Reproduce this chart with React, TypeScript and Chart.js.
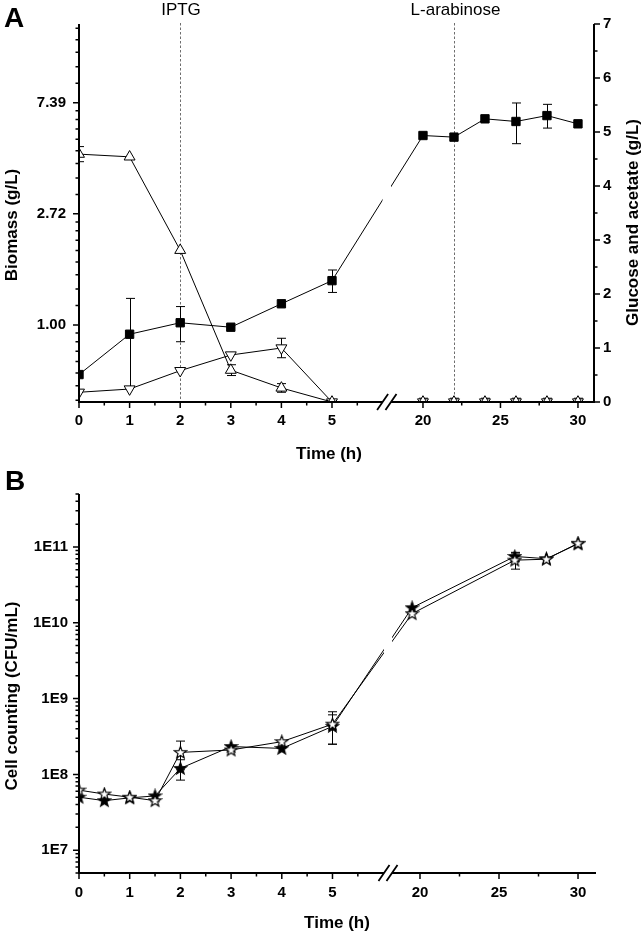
import React, { useEffect, useRef } from 'react';
import { Chart, registerables } from 'chart.js';

Chart.register(...registerables);

const FONT = '"Liberation Sans", Arial, Helvetica, sans-serif';

// ---------------- Panel A data ----------------
const timeA = [0, 1, 2, 3, 4, 5, 20, 22, 24, 26, 28, 30];
const biomass = [0.64, 0.92, 1.02, 0.98, 1.21, 1.49, 5.5, 5.42, 6.39, 6.24, 6.58, 6.11];
const biomassErr = [0, 0.35, 0.16, 0, 0, 0.15, 0, 0, 0, 1.13, 0.7, 0];
const glucose = [4.59, 4.54, 2.81, 0.59, 0.26, 0, 0, 0, 0, 0, 0, 0];
const glucoseErr = [0.14, 0, 0, 0.1, 0.08, 0, 0.07, 0.07, 0.07, 0.07, 0.07, 0.07];
const acetate = [0.18, 0.24, 0.58, 0.87, 1.0, 0, 0, 0, 0, 0, 0, 0];
const acetateErr = [0, 0, 0, 0, 0.18, 0, 0, 0, 0, 0, 0, 0];

const biomassTickValues = [Math.exp(0), Math.exp(1), Math.exp(2)];
const biomassTickLabels = ['1.00', '2.72', '7.39'];
const glucoseTickValues = [0, 1, 2, 3, 4, 5, 6, 7];

const eventTimes = [2, 22];
const eventLabels = ['IPTG', 'L-arabinose'];

// ---------------- Panel B data ----------------
const timeB = [0, 0.5, 1, 1.5, 2, 3, 4, 5, 19.5, 26, 28, 30];
const cellsOpen = [6.2e7, 5.5e7, 5.0e7, 4.5e7, 1.95e8, 2.1e8, 2.7e8, 4.6e8, 1.32e10, 6.7e10, 6.9e10, 1.12e11];
const cellsOpenErr = [0, 0, 0, 0, 0.8e8, 0, 0, 2.1e8, 0, 1.6e10, 0, 0];
const cellsFilled = [5.0e7, 4.5e7, 4.9e7, 5.2e7, 1.2e8, 2.33e8, 2.2e8, 4.3e8, 1.58e10, 7.5e10, 7.0e10, 1.1e11];
const cellsFilledErr = [0, 0, 0, 0, 0.36e8, 0, 0, 1.8e8, 0, 1.0e10, 0, 0];

const cellTickValues = [1e7, 1e8, 1e9, 1e10, 1e11];
const cellTickLabels = ['1E7', '1E8', '1E9', '1E10', '1E11'];

// ---------------- x-axis ticks (hours) ----------------
const xMajor = [0, 1, 2, 3, 4, 5, 20, 25, 30];
const xMinor = [0.5, 1.5, 2.5, 3.5, 4.5, 5.5, 22.5, 27.5];

// broken-axis definitions (first segment in hours, second segment compressed)
const brkA = { cut: 6.1, at20: 6.798, k: 0.3063, gapL: 6.0, gapR: 6.166, max: 10.178 };
const brkB = { cut: 6.1, at20: 6.726, k: 0.3117, gapL: 6.016, gapR: 6.174, max: 10.178 };

function toU(b: any, t: number) {
  return t <= b.cut ? t : b.at20 + (t - 20) * b.k;
}
function pts(b: any, times: number[], vals: number[]) {
  return times.map((t, i) => ({ x: toU(b, t), y: vals[i] }));
}

function lnMinor(min: number, max: number) {
  const out: number[] = [];
  for (let n = -2; n <= 3; n++) {
    const a = Math.exp(n), c = Math.exp(n + 1);
    for (let k = 1; k <= 8; k++) {
      const v = a + (k * (c - a)) / 9;
      if (v >= min && v <= max) out.push(v);
    }
  }
  return out;
}
function logMinor(min: number, max: number) {
  const out: number[] = [];
  for (let n = 5; n <= 12; n++) {
    for (let k = 2; k <= 9; k++) {
      const v = k * Math.pow(10, n);
      if (v >= min && v <= max) out.push(v);
    }
  }
  return out;
}

function makeStar(fill: string) {
  const c = document.createElement('canvas');
  c.width = 15;
  c.height = 15;
  const g = c.getContext('2d')!;
  const cx = 7.5, cy = 7.8, R = 6.3, r = 2.6;
  g.beginPath();
  for (let i = 0; i < 10; i++) {
    const ang = -Math.PI / 2 + (i * Math.PI) / 5;
    const rr = i % 2 === 0 ? R : r;
    const x = cx + rr * Math.cos(ang), y = cy + rr * Math.sin(ang);
    if (i === 0) g.moveTo(x, y);
    else g.lineTo(x, y);
  }
  g.closePath();
  g.fillStyle = fill;
  g.fill();
  g.strokeStyle = '#000';
  g.lineWidth = 1.2;
  g.stroke();
  return c;
}

const tickFont = { family: FONT, size: 15, weight: 'bold' as const };

function decoPlugin(p: any) {
  return {
    id: 'deco' + p.name,
    beforeDatasetsDraw(chart: any) {
      const { ctx, chartArea: ca } = chart;
      const xs = chart.scales.x;
      ctx.save();
      // event lines
      ctx.strokeStyle = '#6e6e6e';
      ctx.lineWidth = 1;
      ctx.setLineDash([2.5, 2]);
      (p.events || []).forEach((t: number) => {
        const x = Math.round(xs.getPixelForValue(toU(p.brk, t))) + 0.5;
        ctx.beginPath();
        ctx.moveTo(x, ca.top - 1);
        ctx.lineTo(x, ca.bottom);
        ctx.stroke();
      });
      ctx.setLineDash([]);
      // error bars
      ctx.beginPath();
      ctx.rect(ca.left, ca.top, ca.right - ca.left, ca.bottom - ca.top);
      ctx.clip();
      ctx.strokeStyle = '#000';
      ctx.lineWidth = 1;
      chart.data.datasets.forEach((ds: any, i: number) => {
        const errs = ds.errs;
        if (!errs) return;
        const meta = chart.getDatasetMeta(i);
        const ys = chart.scales[ds.yAxisID];
        ds.data.forEach((pt: any, j: number) => {
          const e = errs[j];
          if (!e) return;
          const x = Math.round(meta.data[j].x) + 0.5;
          const yTop = ys.getPixelForValue(pt.y + e);
          const lo = pt.y - e;
          const yBot = lo > ys.min ? ys.getPixelForValue(lo) : ca.bottom + 10;
          ctx.beginPath();
          ctx.moveTo(x, yTop);
          ctx.lineTo(x, yBot);
          ctx.moveTo(x - 4.5, yTop);
          ctx.lineTo(x + 4.5, yTop);
          ctx.moveTo(x - 4.5, yBot);
          ctx.lineTo(x + 4.5, yBot);
          ctx.stroke();
        });
      });
      ctx.restore();
    },
    afterDatasetsDraw(chart: any) {
      const { ctx, chartArea: ca } = chart;
      const xs = chart.scales.x;
      const x1 = xs.getPixelForValue(p.brk.gapL);
      const x2 = xs.getPixelForValue(p.brk.gapR);
      ctx.save();
      // break band
      ctx.fillStyle = '#fff';
      ctx.fillRect(x1, ca.top, x2 - x1, ca.bottom - ca.top + 3);
      // axis lines
      ctx.strokeStyle = '#000';
      ctx.lineWidth = 2;
      ctx.beginPath();
      ctx.moveTo(ca.left, ca.top);
      ctx.lineTo(ca.left, ca.bottom + 1);
      if (p.rightId) {
        ctx.moveTo(ca.right, ca.top);
        ctx.lineTo(ca.right, ca.bottom + 1);
      }
      ctx.moveTo(ca.left - 1, ca.bottom);
      ctx.lineTo(x1, ca.bottom);
      ctx.moveTo(x2, ca.bottom);
      ctx.lineTo(ca.right + 1, ca.bottom);
      ctx.stroke();
      // ticks
      ctx.lineWidth = 1.5;
      ctx.beginPath();
      xMajor.forEach((t) => {
        const x = xs.getPixelForValue(toU(p.brk, t));
        ctx.moveTo(x, ca.bottom);
        ctx.lineTo(x, ca.bottom + 6);
      });
      xMinor.forEach((t) => {
        const x = xs.getPixelForValue(toU(p.brk, t));
        ctx.moveTo(x, ca.bottom);
        ctx.lineTo(x, ca.bottom + 3.5);
      });
      const ly = chart.scales[p.leftId];
      p.leftMajor.forEach((v: number) => {
        const y = ly.getPixelForValue(v);
        ctx.moveTo(ca.left - 6, y);
        ctx.lineTo(ca.left, y);
      });
      p.leftMinor.forEach((v: number) => {
        const y = ly.getPixelForValue(v);
        ctx.moveTo(ca.left - 3.5, y);
        ctx.lineTo(ca.left, y);
      });
      if (p.rightId) {
        const ry = chart.scales[p.rightId];
        p.rightMajor.forEach((v: number) => {
          const y = ry.getPixelForValue(v);
          ctx.moveTo(ca.right, y);
          ctx.lineTo(ca.right + 6, y);
        });
        p.rightMinor.forEach((v: number) => {
          const y = ry.getPixelForValue(v);
          ctx.moveTo(ca.right, y);
          ctx.lineTo(ca.right + 3.5, y);
        });
      }
      ctx.stroke();
      // break slashes
      ctx.lineWidth = 1.8;
      ctx.beginPath();
      [x1, x2].forEach((c) => {
        ctx.moveTo(c - 5.5, ca.bottom + 8);
        ctx.lineTo(c + 5.5, ca.bottom - 8);
      });
      ctx.stroke();
      ctx.restore();
    },
    afterDraw(chart: any) {
      const { ctx } = chart;
      ctx.save();
      ctx.fillStyle = '#000';
      p.texts.forEach((tx: any) => {
        ctx.save();
        ctx.font = tx.font;
        ctx.textAlign = 'center';
        ctx.textBaseline = 'alphabetic';
        ctx.translate(tx.x, tx.y);
        if (tx.rot) ctx.rotate(-Math.PI / 2);
        ctx.fillText(tx.text, 0, 0);
        ctx.restore();
      });
      ctx.restore();
    },
  };
}

function xScale(b: any, h: number, pad: number) {
  return {
    type: 'linear',
    min: 0,
    max: b.max,
    grid: { display: false, drawTicks: false },
    border: { display: false },
    ticks: {
      font: tickFont,
      color: '#000',
      padding: pad,
      autoSkip: false,
      maxRotation: 0,
      callback: (_v: any, i: number) => String(xMajor[i]),
    },
    afterBuildTicks: (s: any) => {
      s.ticks = xMajor.map((t) => ({ value: toU(b, t) }));
    },
    afterFit: (s: any) => {
      s.height = h;
    },
  };
}

function configA(): any {
  const base = { borderColor: '#000', borderWidth: 1, tension: 0, clip: 0, pointBorderColor: '#000', pointBorderWidth: 1 };
  return {
    type: 'line',
    data: {
      datasets: [
        { ...base, label: 'Biomass', data: pts(brkA, timeA, biomass), errs: biomassErr, yAxisID: 'y', pointStyle: 'rect', pointRadius: 5.9, pointBackgroundColor: '#000' },
        { ...base, label: 'Glucose', data: pts(brkA, timeA, glucose), errs: glucoseErr, yAxisID: 'y2', pointStyle: 'triangle', pointRadius: 6.3, pointBackgroundColor: '#fff' },
        { ...base, label: 'Acetate', data: pts(brkA, timeA, acetate), errs: acetateErr, yAxisID: 'y2', pointStyle: 'triangle', pointRotation: 180, pointRadius: 6.3, pointBackgroundColor: '#fff' },
      ],
    },
    options: {
      responsive: false,
      animation: false,
      events: [],
      layout: { padding: { top: 24, left: 0, right: 0, bottom: 0 } },
      plugins: { legend: { display: false }, tooltip: { enabled: false } },
      scales: {
        x: xScale(brkA, 63, 10),
        y: {
          type: 'logarithmic',
          position: 'left',
          min: 0.5,
          max: 15,
          grid: { display: false, drawTicks: false },
          border: { display: false },
          ticks: { font: tickFont, color: '#000', padding: 13, autoSkip: false, callback: (_v: any, i: number) => biomassTickLabels[i] },
          afterBuildTicks: (s: any) => {
            s.ticks = biomassTickValues.map((v) => ({ value: v }));
          },
          afterFit: (s: any) => {
            s.width = 79;
          },
        },
        y2: {
          type: 'linear',
          position: 'right',
          min: 0,
          max: 7,
          grid: { display: false, drawTicks: false },
          border: { display: false },
          ticks: { font: tickFont, color: '#000', padding: 9, autoSkip: false, callback: (v: any) => String(v) },
          afterBuildTicks: (s: any) => {
            s.ticks = glucoseTickValues.map((v) => ({ value: v }));
          },
          afterFit: (s: any) => {
            s.width = 50;
          },
        },
      },
    },
    plugins: [
      decoPlugin({
        name: 'A',
        brk: brkA,
        events: eventTimes,
        leftId: 'y',
        leftMajor: biomassTickValues,
        leftMinor: lnMinor(0.5, 15),
        rightId: 'y2',
        rightMajor: glucoseTickValues,
        rightMinor: [0.5, 1.5, 2.5, 3.5, 4.5, 5.5, 6.5],
        texts: [
          { text: 'A', x: 14, y: 27, font: `bold 28px ${FONT}` },
          { text: eventLabels[0], x: 181, y: 15, font: `17px ${FONT}` },
          { text: eventLabels[1], x: 455.5, y: 15, font: `17px ${FONT}` },
          { text: 'Biomass (g/L)', x: 17, y: 225, rot: true, font: `bold 17px ${FONT}` },
          { text: 'Glucose and acetate (g/L)', x: 638, y: 222.5, rot: true, font: `bold 17px ${FONT}` },
          { text: 'Time (h)', x: 329, y: 459, font: `bold 17px ${FONT}` },
        ],
      }),
    ],
  };
}

function configB(): any {
  const openStar = makeStar('#fff');
  const fullStar = makeStar('#000');
  const base = { borderColor: '#000', borderWidth: 1, tension: 0, clip: 0, pointRadius: 6.5 };
  return {
    type: 'line',
    data: {
      datasets: [
        { ...base, label: 'open', data: pts(brkB, timeB, cellsOpen), errs: cellsOpenErr, yAxisID: 'y', pointStyle: openStar },
        { ...base, label: 'filled', data: pts(brkB, timeB, cellsFilled), errs: cellsFilledErr, yAxisID: 'y', pointStyle: fullStar },
      ],
    },
    options: {
      responsive: false,
      animation: false,
      events: [],
      layout: { padding: { top: 29, left: 0, right: 49, bottom: 0 } },
      plugins: { legend: { display: false }, tooltip: { enabled: false } },
      scales: {
        x: xScale(brkB, 61, 11),
        y: {
          type: 'logarithmic',
          position: 'left',
          min: 5e6,
          max: 5e11,
          grid: { display: false, drawTicks: false },
          border: { display: false },
          ticks: { font: tickFont, color: '#000', padding: 11, autoSkip: false, callback: (_v: any, i: number) => cellTickLabels[i] },
          afterBuildTicks: (s: any) => {
            s.ticks = cellTickValues.map((v) => ({ value: v }));
          },
          afterFit: (s: any) => {
            s.width = 79;
          },
        },
      },
    },
    plugins: [
      decoPlugin({
        name: 'B',
        brk: brkB,
        events: [],
        leftId: 'y',
        leftMajor: cellTickValues,
        leftMinor: logMinor(5e6, 5e11),
        texts: [
          { text: 'B', x: 15, y: 25, font: `bold 28px ${FONT}` },
          { text: 'Cell counting (CFU/mL)', x: 17, y: 231, rot: true, font: `bold 17px ${FONT}` },
          { text: 'Time (h)', x: 337, y: 463, font: `bold 17px ${FONT}` },
        ],
      }),
    ],
  };
}

export default function App() {
  const refA = useRef<HTMLCanvasElement>(null);
  const refB = useRef<HTMLCanvasElement>(null);
  useEffect(() => {
    const a = new Chart(refA.current as HTMLCanvasElement, configA());
    const b = new Chart(refB.current as HTMLCanvasElement, configB());
    return () => {
      a.destroy();
      b.destroy();
    };
  }, []);
  return (
    <div style={{ position: 'absolute', left: 0, top: 0, width: 644, height: 934, background: '#fff' }}>
      <canvas ref={refA} width={644} height={465} style={{ position: 'absolute', left: 0, top: 0, width: 644, height: 465 }} />
      <canvas ref={refB} width={644} height={469} style={{ position: 'absolute', left: 0, top: 465, width: 644, height: 469 }} />
    </div>
  );
}
